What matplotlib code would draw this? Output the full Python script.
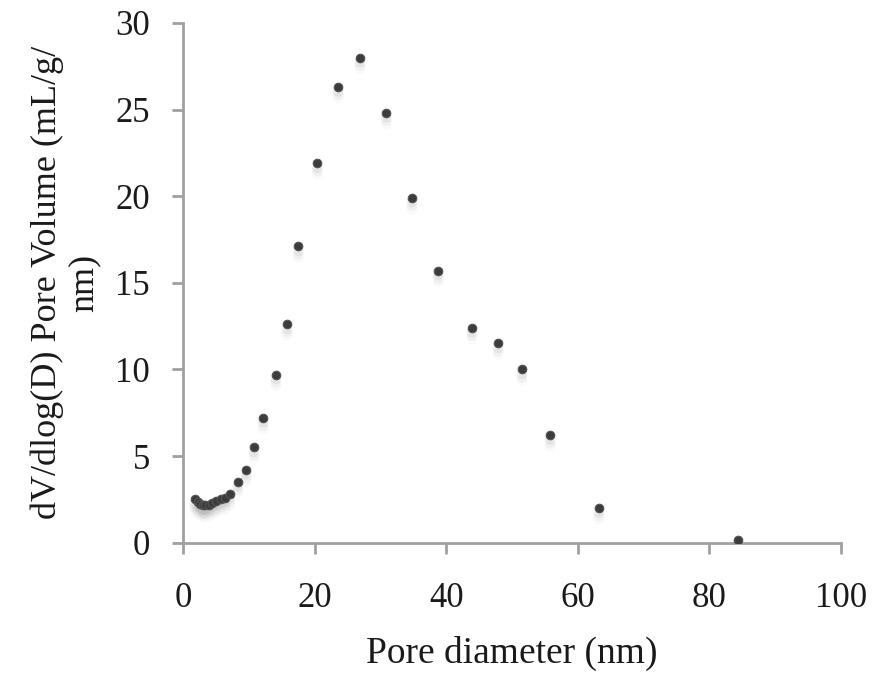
import numpy as np
import matplotlib.pyplot as plt

plt.rcParams['font.family'] = ['Liberation Serif', 'DejaVu Serif']

# pore diameter (nm) and dV/dlog(D) values
diameter = [1.8, 2.2, 2.6, 3.0, 3.4, 3.9, 4.4, 5.0, 5.7, 6.4, 7.1, 8.3, 9.6,
            10.8, 12.2, 14.1, 15.8, 17.5, 20.4, 23.6, 26.9, 30.9, 34.8,
            38.8, 43.9, 47.9, 51.5, 55.8, 63.2, 84.3]
volume = [2.5, 2.35, 2.25, 2.15, 2.15, 2.2, 2.3, 2.4, 2.5, 2.6, 2.8, 3.5, 4.2,
          5.5, 7.2, 9.7, 12.6, 17.1, 21.9, 26.3, 28.0, 24.8, 19.9,
          15.7, 12.4, 11.5, 10.0, 6.2, 2.0, 0.15]

fig = plt.figure(figsize=(8.76, 6.75), dpi=100)
ax = fig.add_axes([0.209, 0.196, 0.751, 0.770])

# soft shadow under the markers
for dy, a in [(0.25, 0.10), (0.45, 0.07), (0.65, 0.04)]:
    ax.scatter(diameter, np.array(volume) - dy, s=60, color='gray',
               alpha=a, edgecolors='none', zorder=2)
ax.scatter(diameter, volume, s=38, color='#3c3c3c', edgecolors='#555555',
           linewidths=0.8, zorder=3)

ax.set_xlim(0, 100)
ax.set_ylim(0, 30)
ax.set_xticks(range(0, 101, 20))
ax.set_yticks(range(0, 31, 5))

for s in ['top', 'right']:
    ax.spines[s].set_visible(False)
for s in ['left', 'bottom']:
    ax.spines[s].set_color('#a0a0a0')
    ax.spines[s].set_linewidth(2)
ax.tick_params(direction='out', length=8, width=2, color='#a0a0a0',
               labelsize=25, labelcolor='#1a1a1a')
ax.tick_params(axis='x', pad=20)
ax.tick_params(axis='y', pad=16)

ax.set_xlabel('Pore diameter (nm)', fontsize=27, color='#1a1a1a', va='top')
ax.xaxis.set_label_coords(0.5, -0.18)
ax.set_ylabel('dV/dlog(D) Pore Volume (mL/g/\nnm)', fontsize=26,
              color='#1a1a1a', linespacing=1.15)
ax.yaxis.set_label_coords(-0.125, 0.5)

fig.savefig('out.png', dpi=100)
